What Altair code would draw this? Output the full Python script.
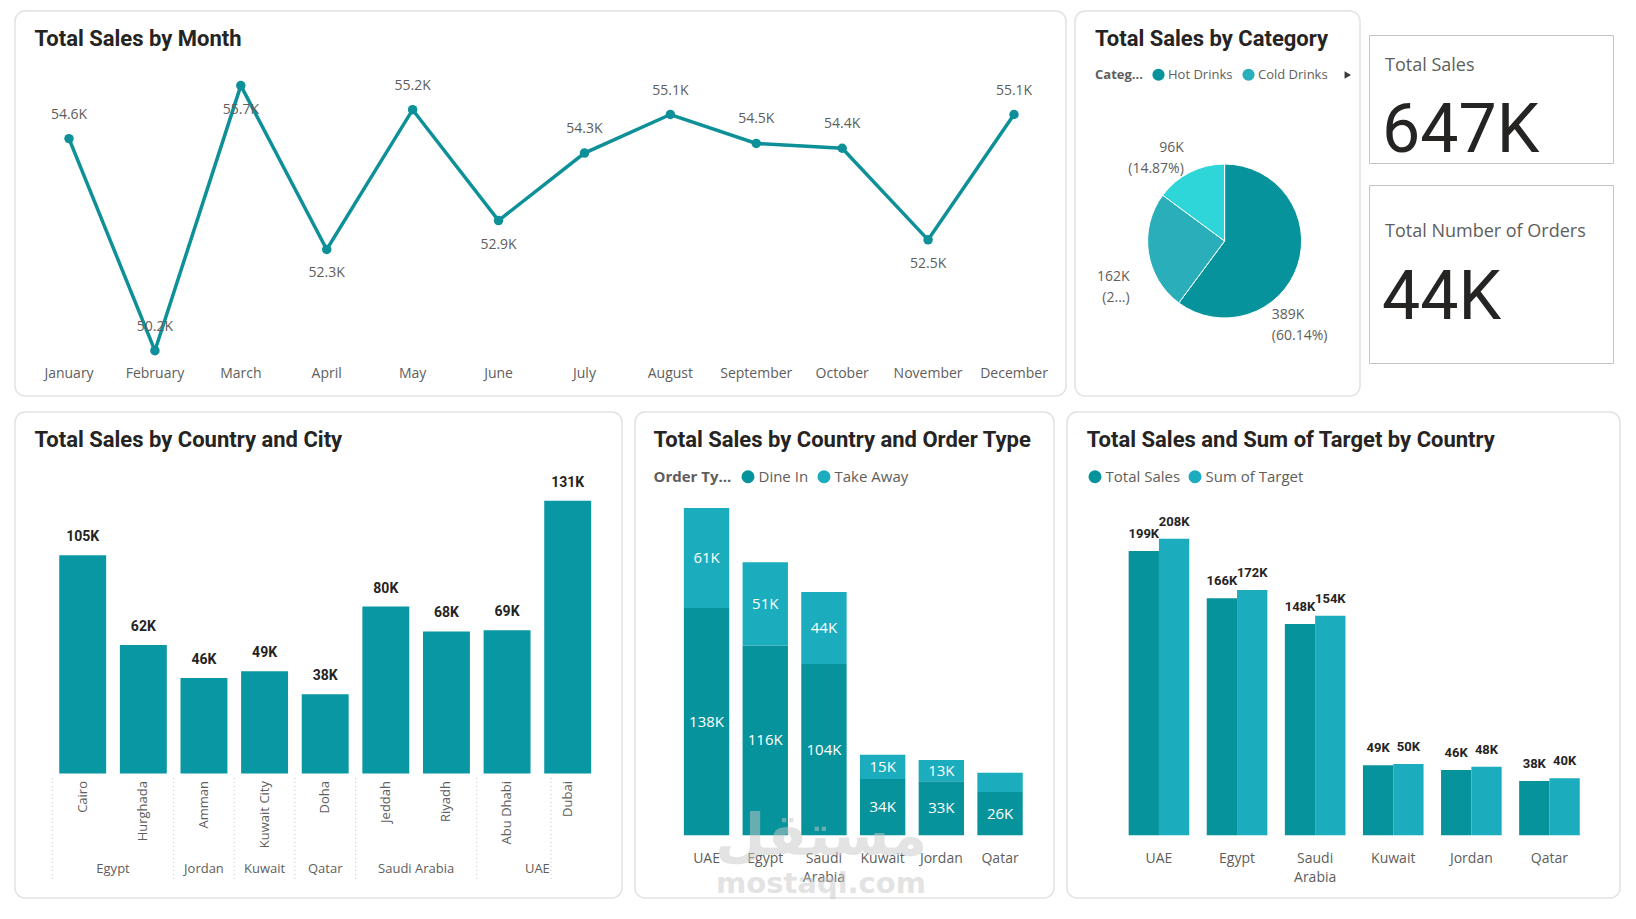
import altair as alt
import pandas as pd

# ---------------------------------------------------------------- data
months = ["January", "February", "March", "April", "May", "June", "July",
          "August", "September", "October", "November", "December"]
month_sales = [54600, 50200, 55700, 52300, 55200, 52900, 54300, 55100, 54500, 54400, 52500, 55100]
months_label_below = ["March", "April", "June", "November"]

categories = ["Hot Drinks", "Cold Drinks", "Bakery"]
category_sales = [388990, 161640, 96180]
legend_categories = ["Hot Drinks", "Cold Drinks"]

orders_count = [43900]

cities = ["Cairo", "Hurghada", "Amman", "Kuwait City", "Doha", "Jeddah", "Riyadh", "Abu Dhabi", "Dubai"]
city_country = ["Egypt", "Egypt", "Jordan", "Kuwait", "Qatar", "Saudi Arabia", "Saudi Arabia", "UAE", "UAE"]
city_sales = [104600, 61600, 45800, 49000, 38000, 80000, 68100, 68600, 130700]

countries = ["UAE", "Egypt", "Saudi Arabia", "Kuwait", "Jordan", "Qatar"]
order_types = ["Dine In", "Take Away"]
dine_in_sales = [138400, 115600, 104200, 34200, 32800, 26300]
take_away_sales = [60900, 50600, 43900, 14800, 13000, 11700]

measures = ["Total Sales", "Sum of Target"]
country_sales = [199300, 166200, 148100, 49000, 45800, 38000]
country_target = [208000, 172000, 154000, 50000, 48000, 40000]

# ---------------------------------------------------------------- style
INK = "#252423"
GREY = "#605E5C"
TEAL = "#0E9099"
DARK = "#07939C"
LIGHT = "#1BACBD"
CITY = "#0A97A4"
PIE_COLORS = ["#07939C", "#2AAFBA", "#2ED6DA"]
TFONT = "Roboto"
BFONT = "Open Sans"

PANEL = alt.ViewBackground(fill="white", stroke="#E2E2E2", strokeWidth=1.5, cornerRadius=10)
CARD = alt.ViewBackground(fill="white", stroke="#C4C4C4", strokeWidth=1, cornerRadius=0)
BLANK = alt.ViewBackground(fillOpacity=0, strokeOpacity=0)


def k0(f):
    return f"format(datum.{f} / 1000, '.0f') + 'K'"


def text_at(text, x, y, **style):
    return alt.Chart(pd.DataFrame({"t": [text]})).mark_text(**style).encode(
        text="t:N", x=alt.value(x), y=alt.value(y))


def panel_title(text, x=19.5):
    return text_at(text, x, 27.5, align="left", baseline="middle", font=TFONT,
                   fontSize=22, fontWeight="bold", color=INK)


def legend(title, x, y, size, font_size, col_pad, values=None):
    kw = dict(orient="none", legendX=x, legendY=y, direction="horizontal",
              symbolType="circle", symbolSize=size, symbolStrokeWidth=0,
              labelFont=BFONT, labelFontSize=font_size, labelColor=GREY,
              labelOffset=3, columnPadding=col_pad, padding=0, title=title)
    if title:
        kw.update(titleOrient="left", titleFont=BFONT, titleFontSize=font_size,
                  titleFontWeight="bold", titleColor=GREY, titlePadding=9)
    if values:
        kw["values"] = values
    return alt.Legend(**kw)


# ---------------------------------------------------------------- line panel
df_m = pd.DataFrame({"month": months, "sales": month_sales})
df_m["place"] = ["below" if m in months_label_below else "above" for m in months]

xm = alt.X("month:N", axis=None, sort=months,
           scale=alt.Scale(type="point", domain=months, range=[54, 999], padding=0))
ym = alt.Y("sales:Q", axis=None,
           scale=alt.Scale(domain=[50200, 55700], range=[339.7, 74.6], zero=False, nice=False))
mb = alt.Chart(df_m).encode(x=xm)
m_line = mb.mark_line(color=TEAL, strokeWidth=3.5).encode(y=ym)
m_pts = mb.mark_circle(color=TEAL, size=90, opacity=1).encode(y=ym)
lbl1 = "format(datum.sales / 1000, '.1f') + 'K'"
m_up = mb.transform_filter("datum.place == 'above'").transform_calculate(lbl=lbl1).mark_text(
    dy=-24, baseline="middle", font=BFONT, fontSize=14, color=GREY).encode(y=ym, text="lbl:N")
m_dn = mb.transform_filter("datum.place == 'below'").transform_calculate(lbl=lbl1).mark_text(
    dy=24, baseline="middle", font=BFONT, fontSize=14, color=GREY).encode(y=ym, text="lbl:N")
m_ticks = mb.mark_text(baseline="middle", font=BFONT, fontSize=14, color=GREY).encode(
    y=alt.value(362.7), text="month:N")
line_panel = alt.layer(panel_title("Total Sales by Month"), m_line, m_pts, m_up, m_dn, m_ticks).properties(
    width=1051, height=385, view=PANEL)

# ---------------------------------------------------------------- pie panel
df_c = pd.DataFrame({"category": categories, "sales": category_sales,
                     "idx": list(range(len(categories)))})
CX, CY = 149.6, 230
pc = alt.Chart(df_c).encode(theta=alt.Theta("sales:Q", stack=True), order=alt.Order("idx:Q"),
                            x=alt.value(CX), y=alt.value(CY))
pie = pc.mark_arc(radius=77, stroke="white", strokeWidth=1).encode(
    color=alt.Color("category:N", scale=alt.Scale(domain=categories, range=PIE_COLORS),
                    legend=legend("Categ...", 20, 57, 150, 13, 9, legend_categories)))

full_lbl = ("format(datum.sales / 1000, '.0f') + 'K\\n(' + "
            "format(datum.sales / datum.total, '.2%') + ')'")
short_lbl = ("format(datum.sales / 1000, '.0f') + 'K\\n(' + "
             "slice(format(datum.sales / datum.total, '.2%'), 0, 1) + '...)'")


def pie_label(cat, expr, dx, dy, align):
    return pc.transform_joinaggregate(total="sum(sales)").transform_calculate(
        sel=f"datum.category == '{cat}' ? ({expr}) : ''").mark_text(
        radius=95, dx=dx, dy=dy, align=align, baseline="middle", lineBreak="\n",
        lineHeight=21, font=BFONT, fontSize=14, color=GREY).encode(text="sel:N")


pie_labels = [
    pie_label(categories[0], full_lbl, -43, 44, "left"),
    pie_label(categories[1], short_lbl, -1, 22, "right"),
    pie_label(categories[2], full_lbl, 2, -8.5, "right"),
]
arrow = alt.Chart(pd.DataFrame({"t": [""]})).mark_point(
    shape="triangle-right", filled=True, size=55, color="#3B3A39", opacity=1).encode(
    x=alt.value(272.8), y=alt.value(64))
pie_panel = alt.layer(panel_title("Total Sales by Category", 20), pie, *pie_labels, arrow).properties(
    width=285, height=385, view=PANEL)

# ---------------------------------------------------------------- KPI cards
spacer = alt.Chart(pd.DataFrame({"t": [""]})).mark_point(size=1, opacity=0).encode(
    x=alt.value(5), y=alt.value(1)).properties(width=244, height=2, view=BLANK)

kpi_sales = alt.Chart(df_m).transform_aggregate(total="sum(sales)").transform_calculate(
    v=k0("total")).mark_text(align="left", baseline="middle", font=TFONT, fontSize=68, color=INK).encode(
    text="v:N", x=alt.value(13), y=alt.value(97))
card1 = alt.layer(
    text_at("Total Sales", 16, 31, align="left", baseline="middle", font=BFONT, fontSize=18, color=GREY),
    kpi_sales).properties(width=244, height=128, view=CARD)

kpi_orders = alt.Chart(pd.DataFrame({"orders": orders_count})).transform_calculate(
    v=k0("orders")).mark_text(align="left", baseline="middle", font=TFONT, fontSize=68, color=INK).encode(
    text="v:N", x=alt.value(13), y=alt.value(114))
card2 = alt.layer(
    text_at("Total Number of Orders", 16, 47, align="left", baseline="middle", font=BFONT, fontSize=18,
            color=GREY),
    kpi_orders).properties(width=244, height=178, view=CARD)

kpi_col = alt.vconcat(spacer, card1, card2, spacing=22, bounds="flush")

# ---------------------------------------------------------------- panel A: country & city
df_city = pd.DataFrame({"city": cities, "country": city_country, "sales": city_sales})
grp = df_city.groupby("country", sort=False).agg(
    first=("city", "first"), last=("city", "last"), n=("city", "size")).reset_index()

PA = 0.226
RA = [37.4, 583]
half_gap = PA * (RA[1] - RA[0]) / len(cities) / 2
sc_city = alt.Scale(type="band", domain=cities, range=RA, paddingInner=PA, paddingOuter=PA / 2)
ya = alt.Y("sales:Q", axis=None, scale=alt.Scale(domain=[0, 100000], range=[361.6, 152.8], nice=False))

a_bars = alt.Chart(df_city).mark_bar(color=CITY).encode(
    x=alt.X("city:N", axis=None, scale=sc_city), y=ya)
a_vals = alt.Chart(df_city).transform_calculate(lbl=k0("sales")).mark_text(
    dy=-18, baseline="middle", font=TFONT, fontSize=14, fontWeight="bold", color=INK).encode(
    x=alt.X("city:N", axis=None, scale=sc_city), y=ya, text="lbl:N")
a_city = alt.Chart(df_city).mark_text(
    angle=270, align="right", baseline="middle", font=BFONT, fontSize=13, color=GREY).encode(
    x=alt.X("city:N", axis=None, scale=sc_city), y=alt.value(369), text="city:N")
sep_style = dict(color="#C8C8C8", strokeDash=[1, 3], strokeWidth=1)
a_sep = alt.Chart(grp).mark_rule(**sep_style).encode(
    x=alt.X("first:N", axis=None, scale=sc_city, bandPosition=0), xOffset=alt.value(-half_gap),
    y=alt.value(366), y2=alt.value(470))
a_sep_end = alt.Chart(grp.tail(1)).mark_rule(**sep_style).encode(
    x=alt.X("last:N", axis=None, scale=sc_city, bandPosition=1), xOffset=alt.value(half_gap),
    y=alt.value(366), y2=alt.value(470))
cty_style = dict(baseline="middle", font=BFONT, fontSize=13, color=GREY)
a_cty1 = alt.Chart(grp).transform_filter("datum.n == 1").mark_text(**cty_style).encode(
    x=alt.X("first:N", axis=None, scale=sc_city, bandPosition=0.5), y=alt.value(456.6), text="country:N")
a_cty2 = alt.Chart(grp).transform_filter("datum.n == 2").mark_text(dx=half_gap, **cty_style).encode(
    x=alt.X("first:N", axis=None, scale=sc_city, bandPosition=1), y=alt.value(456.6),
    text="country:N")
panel_a = alt.layer(panel_title("Total Sales by Country and City"), a_bars, a_vals, a_city,
                    a_sep, a_sep_end, a_cty1, a_cty2).properties(width=607, height=486, view=PANEL)

# ---------------------------------------------------------------- panel B: order type
df_ot = pd.DataFrame({
    "country": countries * 2,
    "type": [order_types[0]] * len(countries) + [order_types[1]] * len(countries),
    "value": dine_in_sales + take_away_sales,
    "ord": [0] * len(countries) + [1] * len(countries),
})
PB = 0.227
sc_cb = alt.Scale(type="band", domain=countries, range=[42.2, 394.4], paddingInner=PB, paddingOuter=PB / 2)
yb_sc = alt.Scale(domain=[0, 100000], range=[423.2, 259.0], nice=False)
bstack = alt.Chart(df_ot).transform_stack(
    stack="value", groupby=["country"], as_=["v0", "v1"], sort=[alt.SortField("ord", order="ascending")])
b_bars = bstack.mark_bar().encode(
    x=alt.X("country:N", axis=None, scale=sc_cb),
    y=alt.Y("v0:Q", axis=None, scale=yb_sc), y2="v1:Q",
    color=alt.Color("type:N", scale=alt.Scale(domain=order_types, range=[DARK, LIGHT]),
                    legend=legend("Order Ty...", 18.5, 57, 170, 15, 8)))
b_vals = bstack.transform_filter("datum.value >= 12500").transform_calculate(
    mid="(datum.v0 + datum.v1) / 2", lbl=k0("value")).mark_text(
    baseline="middle", font=BFONT, fontSize=15, color="white").encode(
    x=alt.X("country:N", axis=None, scale=sc_cb), y=alt.Y("mid:Q", axis=None, scale=yb_sc), text="lbl:N")
b_cty = alt.Chart(pd.DataFrame({"country": countries})).mark_text(
    baseline="top", lineBreak=" ", lineHeight=19, font=BFONT, fontSize=14, color=GREY).encode(
    x=alt.X("country:N", axis=None, scale=sc_cb), y=alt.value(440), text="country:N")
wm1 = text_at("مستقل", 186, 426, font="DejaVu Sans", fontSize=58, fontWeight="bold",
              color="#C8C8C8", opacity=0.5, baseline="middle")
wm2 = text_at("mostaql.com", 186, 472, font="DejaVu Sans", fontSize=29, fontWeight="bold",
              color="#C8C8C8", opacity=0.5, baseline="middle")
panel_b = alt.layer(panel_title("Total Sales by Country and Order Type", 18.5), b_bars, b_vals, b_cty,
                    wm1, wm2).properties(width=419, height=486, view=PANEL)

# ---------------------------------------------------------------- panel C: sales vs target
df_ts = pd.DataFrame({
    "country": countries * 2,
    "measure": [measures[0]] * len(countries) + [measures[1]] * len(countries),
    "value": country_sales + country_target,
})
PC = 0.224
sc_cc = alt.Scale(type="band", domain=countries, range=[52.9, 521.5], paddingInner=PC, paddingOuter=PC / 2)
yc = alt.Y("value:Q", axis=None, scale=alt.Scale(domain=[0, 100000], range=[423.2, 280.65], nice=False))
xo = alt.XOffset("measure:N", sort=measures,
                 scale=alt.Scale(domain=measures, paddingInner=0, paddingOuter=0))
c_bars = alt.Chart(df_ts).mark_bar().encode(
    x=alt.X("country:N", axis=None, scale=sc_cc), xOffset=xo, y=yc,
    color=alt.Color("measure:N", scale=alt.Scale(domain=measures, range=[DARK, LIGHT]),
                    legend=legend(None, 20.5, 57, 170, 15, 7)))
c_vals = alt.Chart(df_ts).transform_calculate(lbl=k0("value")).mark_text(
    dy=-17, baseline="middle", font=TFONT, fontSize=13, fontWeight="bold", color=INK).encode(
    x=alt.X("country:N", axis=None, scale=sc_cc), xOffset=xo, y=yc, text="lbl:N")
c_cty = alt.Chart(pd.DataFrame({"country": countries})).mark_text(
    baseline="top", lineBreak=" ", lineHeight=19, font=BFONT, fontSize=14, color=GREY).encode(
    x=alt.X("country:N", axis=None, scale=sc_cc), y=alt.value(440), text="country:N")
panel_c = alt.layer(panel_title("Total Sales and Sum of Target by Country", 19.8), c_bars, c_vals,
                    c_cty).properties(width=553, height=486, view=PANEL)

# ---------------------------------------------------------------- assemble
top = alt.hconcat(line_panel, pie_panel, kpi_col, spacing=7).resolve_scale(
    color="independent").resolve_legend(color="independent")
bottom = alt.hconcat(panel_a, panel_b, panel_c, spacing=13, bounds="flush").resolve_scale(
    color="independent").resolve_legend(color="independent")
chart = alt.vconcat(top, bottom, spacing=14).resolve_scale(
    color="independent").resolve_legend(color="independent").properties(
    padding={"left": 6, "top": 2, "right": 0, "bottom": 0}, background="white")

chart.save("out.html", embed_options={"renderer": "svg", "actions": False})
